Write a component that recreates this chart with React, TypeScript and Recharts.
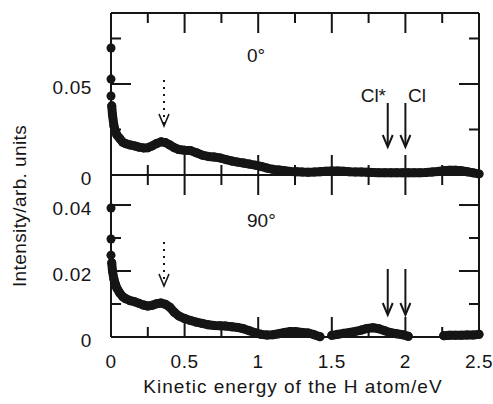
import React from "react";
import { ComposedChart, Line, Scatter, XAxis, YAxis, ReferenceLine } from "recharts";

// kinetic energy grid (eV)
const ENERGY = [
  0.005, 0.01, 0.02, 0.03, 0.04, 0.06, 0.08, 0.1, 0.13, 0.16, 0.19, 0.22, 0.25, 0.28, 0.31, 0.34, 0.37, 0.4, 0.43, 0.46,
  0.5, 0.54, 0.58, 0.62, 0.66, 0.7, 0.74, 0.78, 0.82, 0.86, 0.9, 0.94, 0.98,
  1.02, 1.06, 1.1, 1.14, 1.18, 1.22, 1.26, 1.3, 1.34, 1.38, 1.42, 1.46, 1.5, 1.54, 1.58, 1.62, 1.66, 1.7, 1.74, 1.78,
  1.82, 1.86, 1.9, 1.94, 1.98, 2.02, 2.06, 2.1, 2.14, 2.18, 2.22, 2.26, 2.3, 2.34, 2.38, 2.42, 2.46, 2.5,
];

// 0 deg panel
const TOP = [
  0.038, 0.033, 0.027, 0.024, 0.022, 0.02, 0.018, 0.0172, 0.0165, 0.016, 0.0153, 0.0149, 0.015, 0.016, 0.0173, 0.0182, 0.0178, 0.0165, 0.015, 0.014,
  0.0136, 0.0134, 0.0122, 0.0109, 0.0102, 0.0099, 0.0094, 0.0085, 0.0077, 0.0071, 0.0066, 0.006, 0.0054,
  0.0047, 0.0038, 0.0031, 0.0027, 0.0023, 0.0019, 0.0018, 0.0016, 0.0015, 0.0016, 0.0018, 0.002, 0.0022, 0.0022, 0.002, 0.0018, 0.0017, 0.0016, 0.0015, 0.0014,
  0.0013, 0.0013, 0.0012, 0.0012, 0.0012, 0.0012, 0.0013, 0.0013, 0.0014, 0.0016, 0.0019, 0.0024, 0.0026, 0.0026, 0.0023, 0.0018, 0.0012, 0.0006,
];

// 90 deg panel (null = no point)
const BOT = [
  0.0225, 0.02, 0.0175, 0.016, 0.0148, 0.0133, 0.0122, 0.0116, 0.011, 0.0107, 0.0102, 0.0097, 0.0094, 0.0096, 0.0101, 0.0103, 0.0099, 0.009, 0.0075, 0.0064,
  0.0056, 0.005, 0.0045, 0.0041, 0.0037, 0.0035, 0.0034, 0.0033, 0.0031, 0.0029, 0.0025, 0.0019, 0.0013,
  0.0008, 0.0006, 0.0007, 0.001, 0.0014, 0.0017, 0.0016, 0.0014, 0.0012, 0.0007, 0.0001, null, 0.0005, 0.0008, 0.0011, 0.0014, 0.0017, 0.0021, 0.0026, 0.0028,
  0.0025, 0.0019, 0.0013, 0.001, 0.0007, 0.0002, null, null, null, null, null, 0.0004, 0.0005, 0.0005, 0.0005, 0.0006, 0.0006, 0.0008,
];

// lone points sitting on the y axis
const TOP_EDGE = [0.0698, 0.0527, 0.0434];
const BOT_EDGE = [0.0391, 0.0297, 0.0248];

const X_TICKS = [0, 0.25, 0.5, 0.75, 1, 1.25, 1.5, 1.75, 2, 2.25, 2.5];
const X_LABELS = [0, 0.5, 1, 1.5, 2, 2.5];
const TOP_TICKS = [0, 0.025, 0.05, 0.075];
const TOP_LABELS = [0, 0.05];
const BOT_TICKS = [0, 0.01, 0.02, 0.03, 0.04];
const BOT_LABELS = [0, 0.02, 0.04];

const TOP_MAX = 0.089;
const BOT_MAX = 0.0491;

const W = 493, H = 404;
const PL = 111, PR = 479, T1 = 13, MID = 175, B = 337;
const INK = "#151515";
const FONT = "'Liberation Sans', Arial, sans-serif";

const rows = ENERGY.map((e, i) => ({ e, top: TOP[i], bot: BOT[i] }));
const topEdge = TOP_EDGE.map((v) => ({ e: 0, v }));
const botEdge = BOT_EDGE.map((v) => ({ e: 0, v }));

const px = (e: number) => PL + (e / 2.5) * (PR - PL);

// inward tick marks on all four sides of a panel, drawn as thin filled rects
function FrameTicks({ y0, y1, yTicks, yMajor, ymax }: { y0: number; y1: number; yTicks: number[]; yMajor: number[]; ymax: number }) {
  const py = (v: number) => y1 - (v / ymax) * (y1 - y0);
  const marks: React.ReactNode[] = [];
  X_TICKS.forEach((e) => {
    const len = X_LABELS.includes(e) ? 20 : 10;
    const x = px(e);
    marks.push(<rect key={"xb" + e} x={x - 1} y={y1 - len} width={2} height={len} fill={INK} />);
    marks.push(<rect key={"xt" + e} x={x - 1} y={y0} width={2} height={len} fill={INK} />);
  });
  yTicks.forEach((v) => {
    const len = yMajor.includes(v) ? 20 : 10;
    const y = py(v);
    marks.push(<rect key={"yl" + v} x={PL} y={y - 1} width={len} height={2} fill={INK} />);
    marks.push(<rect key={"yr" + v} x={PR - len} y={y - 1} width={len} height={2} fill={INK} />);
  });
  return <g>{marks}</g>;
}

const makeYTick = (labeled: number[]) => (p: any) => {
  const { y, payload } = p;
  const v = payload.value;
  if (!labeled.includes(v)) return <g />;
  return (
    <text x={92} y={y + 10} textAnchor="end" fontFamily={FONT} fontSize={19} letterSpacing={0.6} fill={INK}>
      {String(v)}
    </text>
  );
};

const xLabelTick = (p: any) => {
  const { x, payload } = p;
  const v = payload.value;
  if (!X_LABELS.includes(v)) return <g />;
  return (
    <text x={x} y={368} textAnchor="middle" fontFamily={FONT} fontSize={19} letterSpacing={0.6} fill={INK}>
      {String(v)}
    </text>
  );
};

function Arrow({ e, y1, y2, dotted }: { e: number; y1: number; y2: number; dotted?: boolean }) {
  const x = px(e);
  return (
    <g>
      <line x1={x} x2={x} y1={y1} y2={y2 - 1} stroke={INK} strokeWidth={2} strokeDasharray={dotted ? "2 5" : undefined} />
      <polyline points={`${x - 5},${y2 - 12} ${x},${y2} ${x + 5},${y2 - 12}`} fill="none" stroke={INK} strokeWidth={dotted ? 1.6 : 2} />
    </g>
  );
}

const txt = { fontFamily: FONT, fontSize: 19, fill: INK } as const;

export default function App() {
  return (
    <div style={{ position: "absolute", left: 0, top: 0, width: W, height: H, background: "#fff" }}>
      {/* 0 deg panel */}
      <div style={{ position: "absolute", left: 0, top: 0 }}>
        <ComposedChart width={W} height={H} data={rows} margin={{ top: T1, right: W - PR, bottom: H - MID - 1, left: 0 }}>
          <XAxis dataKey="e" type="number" domain={[0, 2.5]} ticks={X_TICKS} interval={0} height={1}
            axisLine={{ stroke: INK, strokeWidth: 2 }} tickLine={false} tick={false} />
          <YAxis type="number" domain={[0, TOP_MAX]} ticks={TOP_TICKS} interval={0} width={PL}
            axisLine={{ stroke: INK, strokeWidth: 2 }} tickLine={false} tick={makeYTick(TOP_LABELS)} />
          <ReferenceLine y={TOP_MAX} stroke={INK} strokeWidth={2} />
          <ReferenceLine y={0} stroke={INK} strokeWidth={2} />
          <ReferenceLine x={2.5} stroke={INK} strokeWidth={2} />
          <FrameTicks y0={T1} y1={MID} yTicks={TOP_TICKS} yMajor={[0.05]} ymax={TOP_MAX} />
          <Line dataKey="top" type="linear" stroke={INK} strokeWidth={9} strokeLinejoin="round" strokeLinecap="round"
            dot={{ r: 4.5, fill: INK, strokeWidth: 0 }} isAnimationActive={false} />
          <Scatter data={topEdge} dataKey="v" fill={INK} isAnimationActive={false} />
          <text x={247} y={62} {...txt}>0°</text>
          <text x={386} y={102} textAnchor="end" {...txt}>Cl*</text>
          <text x={408} y={102} {...txt}>Cl</text>
          <Arrow e={1.88} y1={103} y2={147} />
          <Arrow e={2.0} y1={103} y2={147} />
          <Arrow e={0.36} y1={80} y2={126} dotted />
        </ComposedChart>
      </div>
      {/* 90 deg panel */}
      <div style={{ position: "absolute", left: 0, top: 0 }}>
        <ComposedChart width={W} height={H} data={rows} margin={{ top: MID, right: W - PR, bottom: 0, left: 0 }}>
          <XAxis dataKey="e" type="number" domain={[0, 2.5]} ticks={X_TICKS} interval={0} height={H - B}
            axisLine={{ stroke: INK, strokeWidth: 2 }} tickLine={false} tick={xLabelTick} />
          <YAxis type="number" domain={[0, BOT_MAX]} ticks={BOT_TICKS} interval={0} width={PL}
            axisLine={{ stroke: INK, strokeWidth: 2 }} tickLine={false} tick={makeYTick(BOT_LABELS)} />
          <ReferenceLine x={2.5} stroke={INK} strokeWidth={2} />
          <FrameTicks y0={MID} y1={B} yTicks={BOT_TICKS} yMajor={[0.02, 0.04]} ymax={BOT_MAX} />
          <Line dataKey="bot" type="linear" stroke={INK} strokeWidth={9} strokeLinejoin="round" strokeLinecap="round"
            dot={{ r: 4.5, fill: INK, strokeWidth: 0 }} isAnimationActive={false} />
          <Scatter data={botEdge} dataKey="v" fill={INK} isAnimationActive={false} />
          <text x={247} y={227} {...txt}>90°</text>
          <Arrow e={1.88} y1={269} y2={315} />
          <Arrow e={2.0} y1={269} y2={315} />
          <Arrow e={0.36} y1={242} y2={286} dotted />
          <text x={293} y={393} textAnchor="middle" {...txt} letterSpacing={1}>Kinetic energy of the H atom/eV</text>
          <text x={26} y={206} textAnchor="middle" transform="rotate(-90 26 206)" {...txt} letterSpacing={0.4}>
            Intensity/arb. units
          </text>
        </ComposedChart>
      </div>
    </div>
  );
}
